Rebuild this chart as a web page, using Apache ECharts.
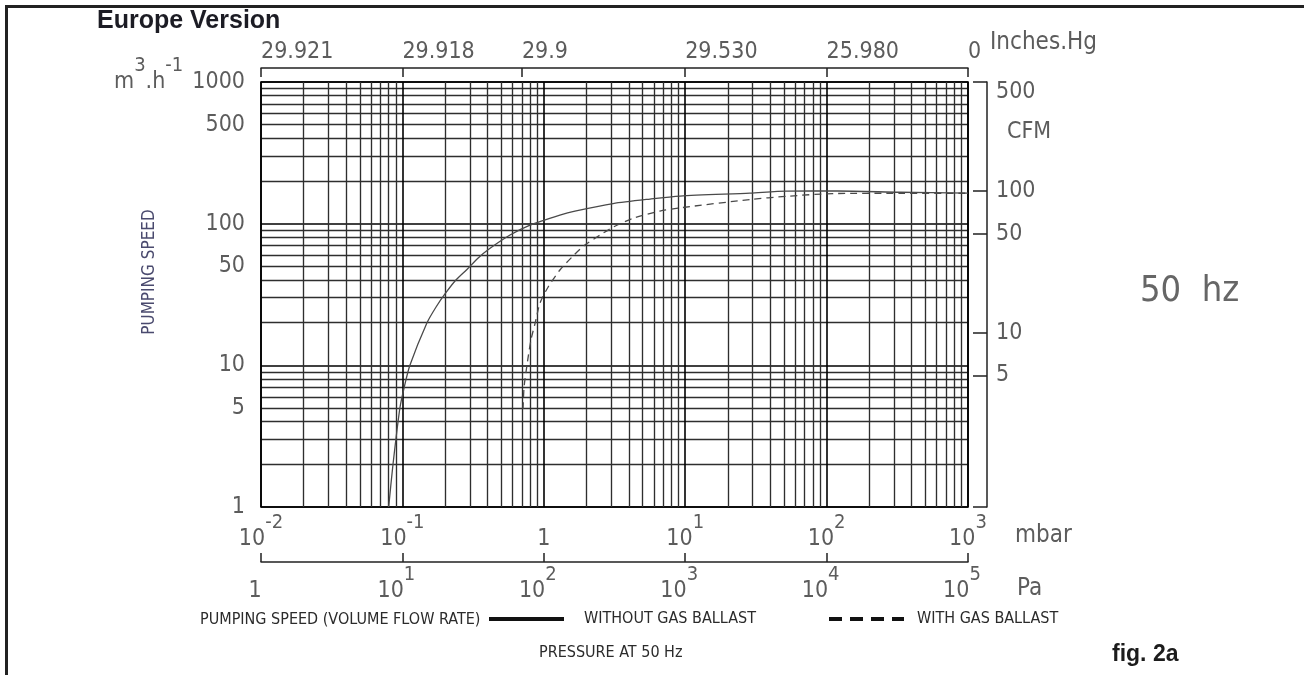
<!DOCTYPE html>
<html>
<head>
<meta charset="utf-8">
<script src="https://cdn.jsdelivr.net/npm/echarts@6/dist/echarts.min.js"></script>
<style>
html,body{margin:0;padding:0;background:#fff;}
#c{position:absolute;left:0;top:0;width:1304px;height:675px;}
#frame{position:absolute;left:5px;top:5px;width:1299px;height:670px;border-left:3px solid #222;border-top:3px solid #222;pointer-events:none;box-sizing:border-box;}
</style>
</head>
<body>
<div id="c"></div>
<div id="frame"></div>
<script>
// ---------- data ----------
const mbarTicks = [0.01, 0.1, 1, 10, 100, 1000];
const mbarBase  = ['10', '10', '1', '10', '10', '10'];
const mbarExp   = ['-2', '-1', '', '1', '2', '3'];

const paTicks = [1, 10, 100, 1000, 10000, 100000];
const paBase  = ['1', '10', '10', '10', '10', '10'];
const paExp   = ['', '1', '2', '3', '4', '5'];

// inches Hg scale: tick positions (in mbar) and labels
const inHgTickMbar = [0.01, 0.1, 0.7, 10, 100, 1000];
const inHgLabels   = ['29.921', '29.918', '29.9', '29.530', '25.980', '0'];

const speedTicks = [1000, 500, 100, 50, 10, 5, 1];          // m3/h
const cfmTicks   = [500, 100, 50, 10, 5];                    // CFM
const m3hPerCfm  = 1.699;

// pumping speed without gas ballast (pressure mbar, speed m3/h)
const solidP = [0.080, 0.0857, 0.096, 0.103, 0.113, 0.149, 0.173, 0.200, 0.239, 0.286, 0.342, 0.410, 0.577, 0.799, 1.30, 1.66, 3.09, 5.64, 9.19, 28.7, 52, 120, 330, 1000];
const solidS = [1.0, 1.98, 5.0, 7.0, 10.0, 19.9, 25.8, 31.9, 40.0, 47.5, 57.0, 66.2, 83.1, 97.8, 115, 122.7, 138.7, 149.2, 156.6, 164.4, 169.9, 170, 166.7, 164.4];

// pumping speed with gas ballast
const dashP = [0.713, 0.725, 0.76, 0.81, 0.87, 0.94, 1.071, 1.30, 1.61, 1.95, 2.50, 3.1, 4.28, 6.63, 9.6, 28.7, 52, 111, 330, 1000];
const dashS = [4.92, 7.0, 10, 15, 20, 27.5, 35.6, 47.1, 59.1, 70.6, 83.1, 94.6, 109, 122.7, 130, 148, 156, 163, 164, 164];

// ---------- helpers ----------
const NARROW = "'DejaVu Sans Condensed', 'Liberation Sans Narrow', sans-serif";
const ARIAL = "'Liberation Sans', Arial, sans-serif";
const LBL = '#5c5c5c';
const TXT = '#2b2b2b';
function nearest(arr, v) {
  let bi = 0, bd = Infinity;
  arr.forEach((a, i) => { const d = Math.abs(Math.log(a) - Math.log(v)); if (d < bd) { bd = d; bi = i; } });
  return bi;
}
function zip(a, b) { return a.map((v, i) => [v, b[i]]); }
const supRich = (base, exp) => ({
  b: { fontFamily: NARROW, fontSize: base, lineHeight: 38, verticalAlign: 'bottom', color: LBL },
  e: { fontFamily: NARROW, fontSize: exp, lineHeight: 14, verticalAlign: 'top', color: LBL }
});

const cfmMin = 1 / m3hPerCfm, cfmMax = 1000 / m3hPerCfm;

const chart = echarts.init(document.getElementById('c'), null, { renderer: 'canvas' });

const gridMajor = { color: '#000', width: 1.6 };
const gridMinor = { color: '#2e2e2e', width: 1.35 };

const option = {
  backgroundColor: '#fff',
  animation: false,
  grid: [{
    left: 261, right: 336, top: 82, bottom: 168,
    show: true, borderColor: '#000', borderWidth: 1.6, backgroundColor: 'transparent',
    containLabel: false, outerBoundsMode: 'none'
  }],
  xAxis: [
    { // mbar, bottom
      type: 'log', gridIndex: 0, position: 'bottom', min: 0.01, max: 1000,
      axisLine: { show: false }, axisTick: { show: false },
      minorTick: { show: false, splitNumber: 9 },
      splitLine: { show: true, lineStyle: gridMajor },
      minorSplitLine: { show: true, lineStyle: gridMinor },
      axisLabel: {
        customValues: mbarTicks, margin: 6,
        formatter: v => { const i = nearest(mbarTicks, v); return '{b|' + mbarBase[i] + '}' + (mbarExp[i] ? '{e|' + mbarExp[i] + '}' : ''); },
        rich: supRich(23, 20)
      }
    },
    { // inches Hg, top
      type: 'log', gridIndex: 0, position: 'top', offset: 14, min: 0.01, max: 1000,
      axisLine: { show: true, lineStyle: { color: '#222', width: 1.5 } },
      axisTick: { show: true, inside: true, length: 9, customValues: inHgTickMbar, lineStyle: { color: '#222', width: 1.5 } },
      splitLine: { show: false },
      axisLabel: {
        customValues: inHgTickMbar, margin: 4, align: 'left',
        fontFamily: NARROW, fontSize: 23, color: LBL,
        formatter: v => inHgLabels[nearest(inHgTickMbar, v)]
      }
    },
    { // Pa, bottom bracket
      type: 'log', gridIndex: 0, position: 'bottom', offset: 55, min: 1, max: 100000,
      axisLine: { show: true, lineStyle: { color: '#222', width: 1.5 } },
      axisTick: { show: true, inside: true, length: 9, customValues: paTicks, lineStyle: { color: '#222', width: 1.5 } },
      splitLine: { show: false },
      axisLabel: {
        customValues: paTicks, margin: 3,
        formatter: v => { const i = nearest(paTicks, v); return '{b|' + paBase[i] + '}' + (paExp[i] ? '{e|' + paExp[i] + '}' : ''); },
        rich: supRich(23, 20), padding: [0, 12, 0, 0]
      }
    }
  ],
  yAxis: [
    { // m3/h, left
      type: 'log', gridIndex: 0, position: 'left', min: 1, max: 1000,
      axisLine: { show: false }, axisTick: { show: false },
      minorTick: { show: false, splitNumber: 9 },
      splitLine: { show: true, lineStyle: gridMajor },
      minorSplitLine: { show: true, lineStyle: gridMinor },
      axisLabel: {
        customValues: speedTicks, margin: 16,
        fontFamily: NARROW, fontSize: 23, color: LBL,
        formatter: v => String(speedTicks[nearest(speedTicks, v)])
      }
    },
    { // CFM, right bracket
      type: 'log', gridIndex: 0, position: 'right', offset: 19, min: cfmMin, max: cfmMax,
      axisLine: { show: true, lineStyle: { color: '#222', width: 1.5 } },
      axisTick: { show: true, inside: true, length: 14, customValues: [cfmMax * 0.9999].concat(cfmTicks.slice(1), [cfmMin * 1.0001]), lineStyle: { color: '#222', width: 1.5 } },
      splitLine: { show: false }, minorSplitLine: { show: false },
      axisLabel: {
        customValues: cfmTicks, margin: 9,
        fontFamily: NARROW, fontSize: 23, color: LBL,
        formatter: v => String(cfmTicks[nearest(cfmTicks, v)])
      }
    }
  ],
  legend: [
    {
      data: ['WITHOUT GAS BALLAST'], left: 487, top: 611, padding: 0, selectedMode: false,
      itemWidth: 75, itemHeight: 16, itemGap: 0,
      itemStyle: { color: 'rgba(0,0,0,0)', borderWidth: 0, opacity: 0 },
      lineStyle: { color: '#111', width: 4, type: 'solid', opacity: 1 },
      textStyle: { fontFamily: NARROW, fontSize: 16, color: TXT, padding: [0, 0, 0, 15] }
    },
    {
      data: ['WITH GAS BALLAST'], left: 827, top: 611, padding: 0, selectedMode: false,
      itemWidth: 75, itemHeight: 16, itemGap: 0,
      itemStyle: { color: 'rgba(0,0,0,0)', borderWidth: 0, opacity: 0 },
      lineStyle: { color: '#111', width: 4, type: [13, 8], opacity: 1 },
      textStyle: { fontFamily: NARROW, fontSize: 16, color: TXT, padding: [0, 0, 0, 8] }
    }
  ],
  graphic: [
    { type: 'text', x: 97, y: 21, style: { text: 'Europe Version', font: 'bold 25px ' + ARIAL, fill: '#1c1c24', verticalAlign: 'middle' } },
    { type: 'text', x: 114, y: 56, style: { text: '{b|m}{e|3}{b|.h}{e|-1}', verticalAlign: 'top',
        rich: { b: { font: '23px ' + NARROW, lineHeight: 38, verticalAlign: 'bottom', fill: LBL },
                e: { font: '20px ' + NARROW, lineHeight: 14, verticalAlign: 'top', fill: LBL } } } },
    { type: 'text', x: 990, y: 43, style: { text: 'Inches.Hg', font: '24px ' + NARROW, fill: LBL, verticalAlign: 'middle' } },
    { type: 'text', x: 1007, y: 132, style: { text: 'CFM', font: '23px ' + NARROW, fill: LBL, verticalAlign: 'middle' } },
    { type: 'text', x: 1140, y: 292, style: { text: '50  hz', font: '36px ' + NARROW, fill: '#666', verticalAlign: 'middle' } },
    { type: 'text', x: 1015, y: 536, style: { text: 'mbar', font: '24px ' + NARROW, fill: LBL, verticalAlign: 'middle' } },
    { type: 'text', x: 1017, y: 589, style: { text: 'Pa', font: '24px ' + NARROW, fill: LBL, verticalAlign: 'middle' } },
    { type: 'text', x: 150, y: 272, rotation: Math.PI / 2, style: { text: 'PUMPING SPEED', font: '17px ' + NARROW, fill: '#4a4a6e', align: 'center', verticalAlign: 'middle' } },
    { type: 'text', x: 200, y: 620, style: { text: 'PUMPING SPEED (VOLUME FLOW RATE)', font: '16px ' + NARROW, fill: TXT, verticalAlign: 'middle' } },
    { type: 'text', x: 539, y: 653, style: { text: 'PRESSURE AT 50 Hz', font: '16px ' + NARROW, fill: TXT, verticalAlign: 'middle' } },
    { type: 'text', x: 1112, y: 655, style: { text: 'fig. 2a', font: 'bold 23px ' + ARIAL, fill: '#1c1c1c', verticalAlign: 'middle' } }
  ],
  series: [
    {
      name: 'WITHOUT GAS BALLAST', type: 'line', xAxisIndex: 0, yAxisIndex: 0,
      data: zip(solidP, solidS), smooth: 0.25, symbol: 'none', showSymbol: false,
      itemStyle: { color: '#4a4a4a' },
      lineStyle: { color: '#4a4a4a', width: 1.3, type: 'solid' }, z: 5
    },
    {
      name: 'WITH GAS BALLAST', type: 'line', xAxisIndex: 0, yAxisIndex: 0,
      data: zip(dashP, dashS), smooth: 0.25, symbol: 'none', showSymbol: false,
      itemStyle: { color: '#4a4a4a' },
      lineStyle: { color: '#4a4a4a', width: 1.3, type: [7, 5] }, z: 5
    }
  ]
};
chart.setOption(option);
</script>
</body>
</html>
